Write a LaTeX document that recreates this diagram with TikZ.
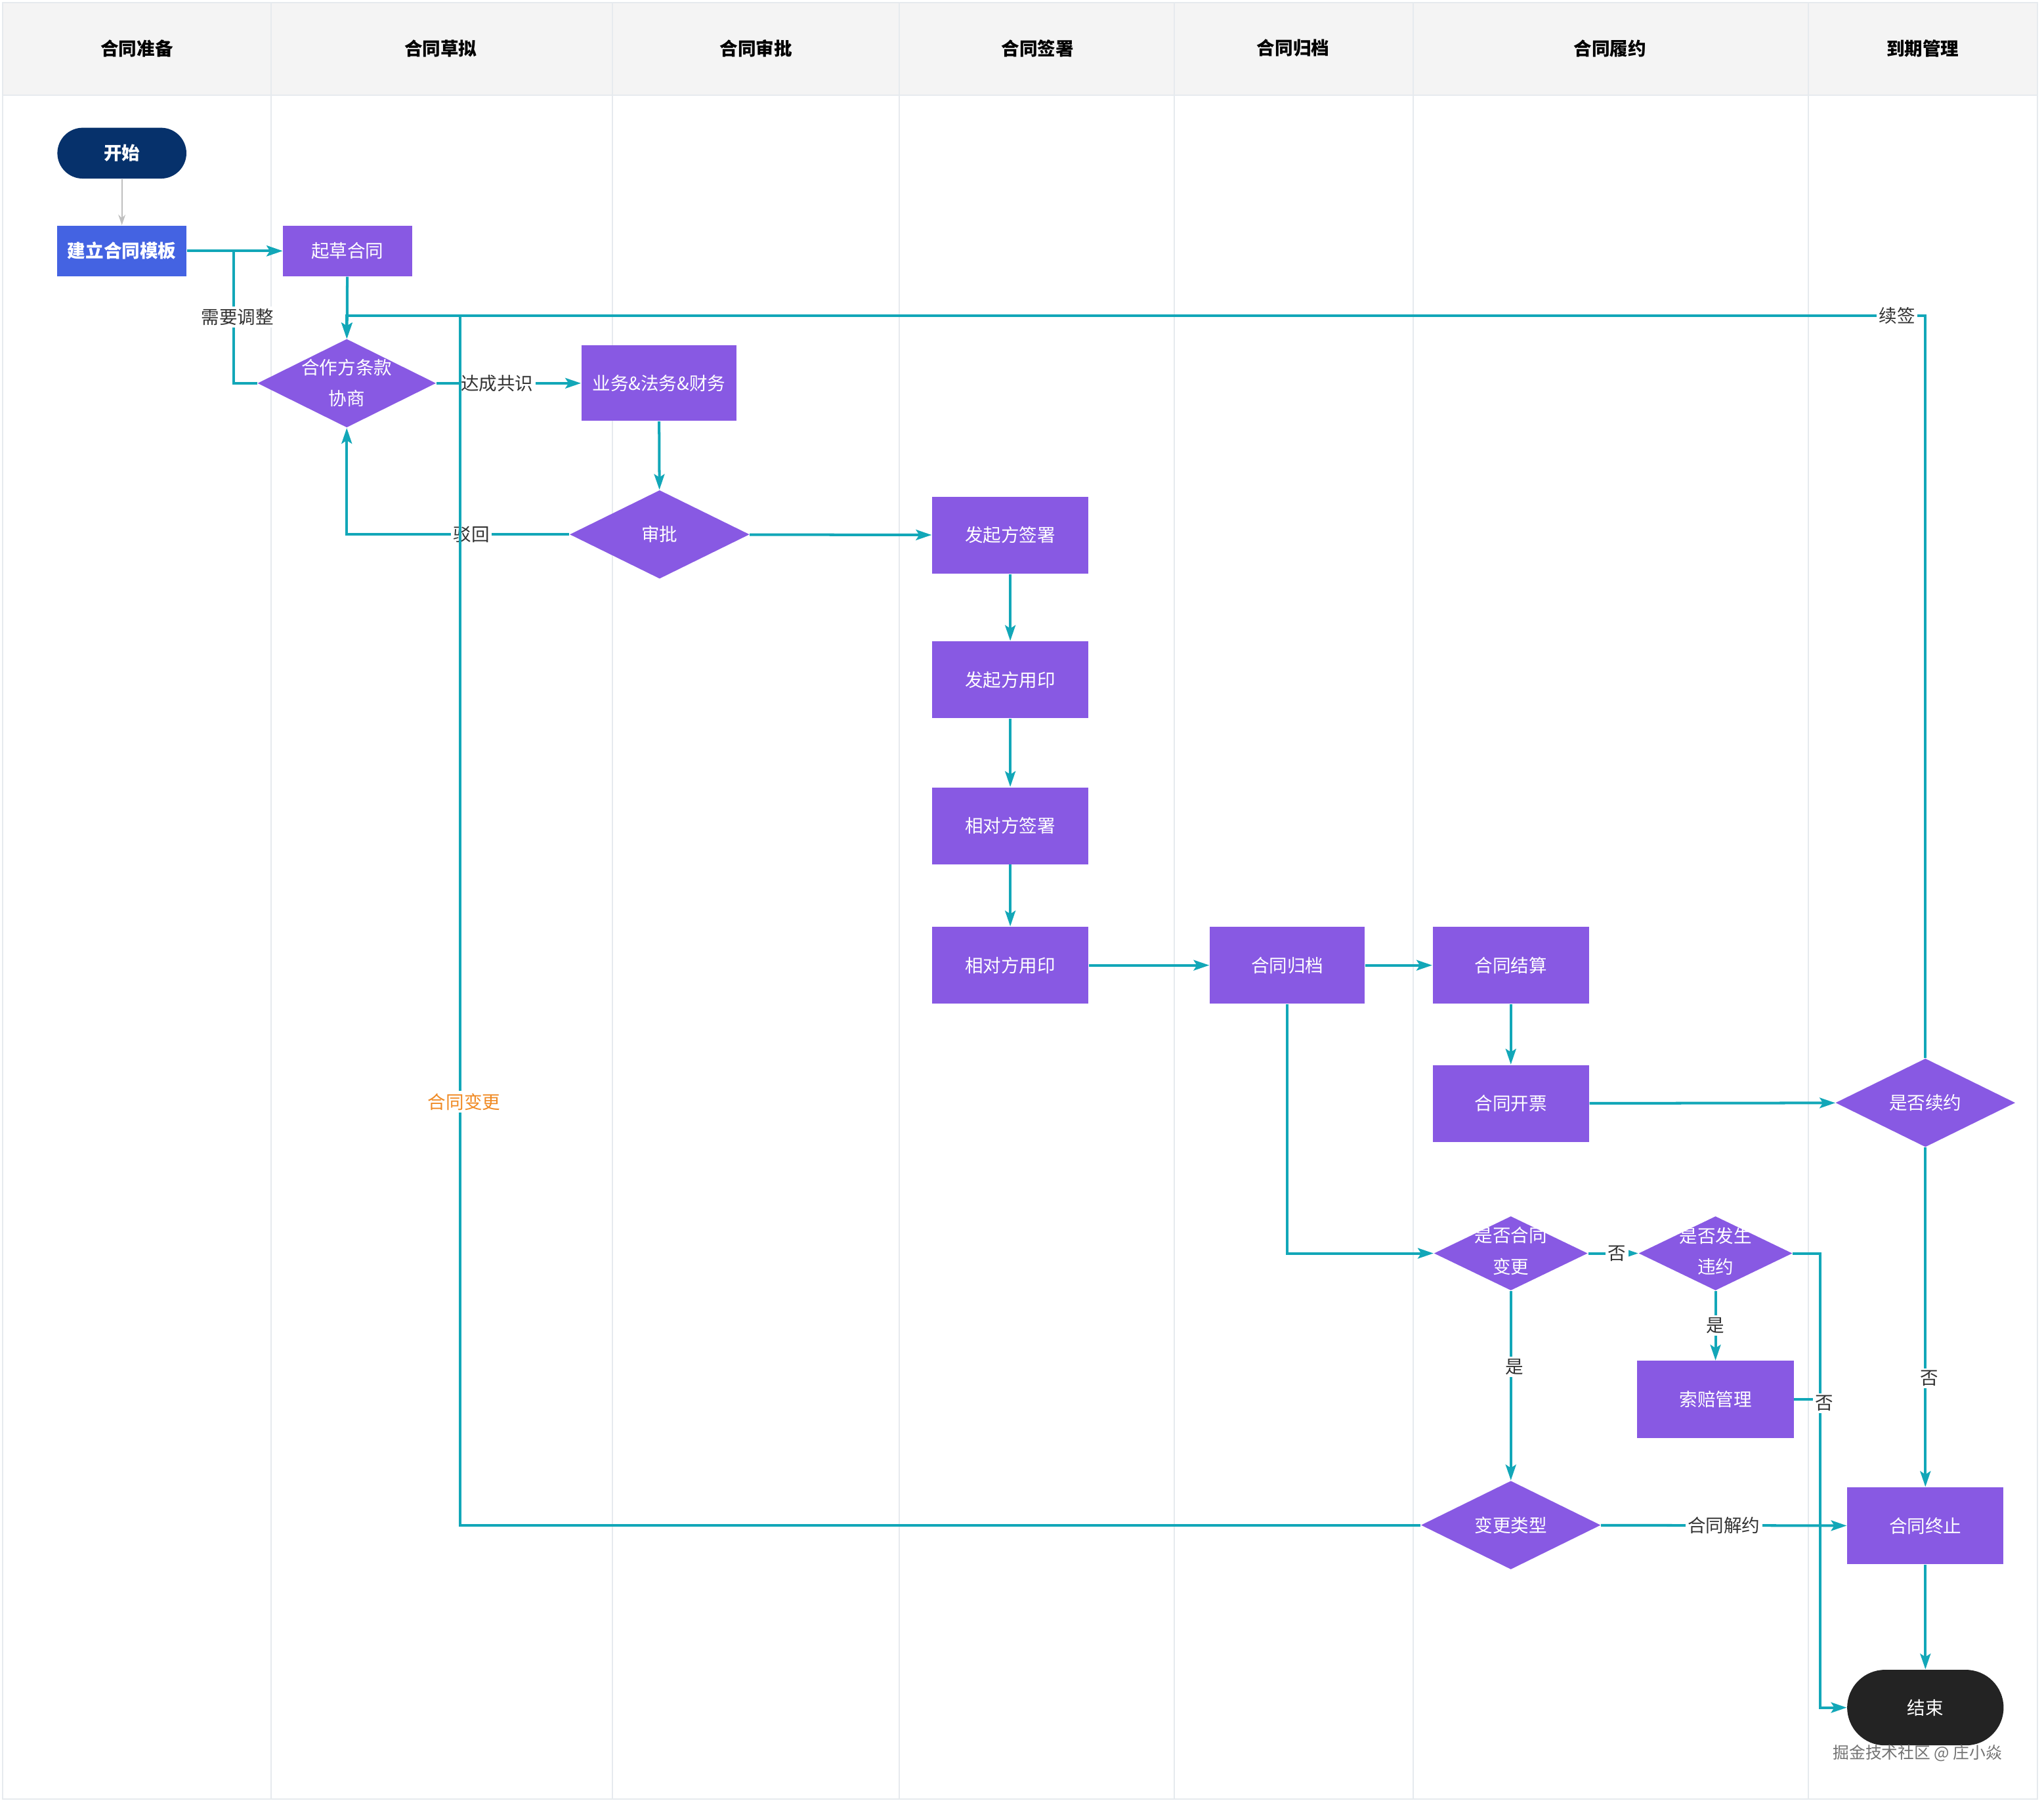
\documentclass[tikz,border=0pt]{standalone}
\usepackage{fontspec}
\setmainfont{Noto Sans CJK SC}
\usetikzlibrary{shapes.geometric,arrows.meta,calc}
\definecolor{tealc}{HTML}{12A7B8}
\definecolor{purp}{HTML}{8859E3}
\definecolor{bluec}{HTML}{4463E2}
\definecolor{navy}{HTML}{06316B}
\definecolor{endc}{HTML}{232323}
\definecolor{headbg}{HTML}{F4F4F4}
\definecolor{laneln}{HTML}{E6EAEE}
\definecolor{orangec}{HTML}{F08A24}
\definecolor{lbltext}{HTML}{333333}
\newcommand{\nf}{\fontsize{7.9}{13.5}\selectfont}
\begin{document}
\begin{tikzpicture}[x=0.02cm,y=-0.02cm,
  box/.style={rectangle, fill=purp, text=white, minimum width=2.4cm, minimum height=1.18cm, inner sep=0pt, font=\nf},
  pill/.style={rectangle, text=white, inner sep=0pt, font=\nf},
  dia/.style={diamond, fill=purp, inner sep=0pt, minimum width=2.76cm, minimum height=1.36cm},
  sdia/.style={diamond, fill=purp, inner sep=0pt, minimum width=2.36cm, minimum height=1.14cm},
  dtext/.style={text=white, align=center, font=\nf},
  title/.style={font=\nf\bfseries, text=black},
  lbl/.style={fill=white, text=lbltext, inner sep=1pt, font=\nf},
  vlbl/.style={lbl, xshift=0.06cm},
  arr/.style={draw=tealc, line width=1.15pt, -{Stealth[length=2.4mm,width=1.6mm,inset=0.5mm]}},
  ln/.style={draw=tealc, line width=1.15pt}
]
% background and lanes
\useasboundingbox (0,0) rectangle (1568,1383);
\fill[white] (0,0) rectangle (1568,1383);
\fill[headbg] (2,2) rectangle (1563,73);
\draw[laneln, line width=0.6pt] (2,73) -- (1563,73);
\foreach \xx in {208,470,690,901,1084,1387} {\draw[laneln, line width=0.6pt] (\xx,2) -- (\xx,1380);}
\draw[laneln, line width=0.6pt] (2,2) rectangle (1563,1380);
% lane titles
\node[title] (h1) at (105,37) {合同准备};
\node[title] (h2) at (338,37) {合同草拟};
\node[title] (h3) at (580,37) {合同审批};
\node[title] (h4) at (796,37) {合同签署};
\node[title] (h5) at (992,37) {合同归档};
\node[title] (h6) at (1235,37) {合同履约};
\node[title] (h7) at (1475,37) {到期管理};
% nodes
\node[pill, fill=navy, minimum width=1.98cm, minimum height=0.78cm, rounded corners=0.39cm, font=\nf\bfseries] (start) at (93.5,117.5) {开始};
\node[box, fill=bluec, minimum width=1.98cm, minimum height=0.78cm, font=\nf\bfseries] (tpl) at (93.5,192.5) {建立合同模板};
\node[box, minimum width=1.98cm, minimum height=0.78cm] (draft) at (266.5,192.5) {起草合同};
\node[dia, minimum width=2.74cm, label={[dtext]center:合作方条款\\协商}] (nego) at (266,294) {};
\node[box, minimum width=2.38cm, minimum height=1.16cm] (biz) at (505.5,294) {业务\&法务\&财务};
\node[dia, label={[dtext]center:审批}] (appr) at (506,410) {};
\node[box] (sign1) at (775,410.5) {发起方签署};
\node[box] (seal1) at (775,521.5) {发起方用印};
\node[box] (sign2) at (775,633.5) {相对方签署};
\node[box] (seal2) at (775,740.5) {相对方用印};
\node[box, minimum width=2.38cm] (arch) at (987.5,740.5) {合同归档};
\node[box] (settle) at (1159,740.5) {合同结算};
\node[box] (invoice) at (1159,846.5) {合同开票};
\node[dia, label={[dtext]center:是否续约}] (renew) at (1477,846) {};
\node[sdia, label={[dtext, yshift=1pt]center:是否合同\\变更}] (chg) at (1159,961.5) {};
\node[sdia, label={[dtext, yshift=1pt]center:是否发生\\违约}] (brk) at (1316,961.5) {};
\node[box] (claim) at (1316,1073.5) {索赔管理};
\node[dia, label={[dtext]center:变更类型}] (ctype) at (1159,1170) {};
\node[box] (term) at (1477,1170.5) {合同终止};
\node[pill, fill=endc, minimum width=2.4cm, minimum height=1.16cm, rounded corners=0.58cm] (end) at (1477,1310) {结束};
\node[text=black!55, font=\fontsize{7.1}{8}\selectfont] (wm) at (1471,1345) {掘金技术社区 @ 庄小焱};
% helper coordinates
\coordinate (top) at (266,242);
\coordinate (cj) at (353,242);
\coordinate (j1) at (1396,1073.5);
% connectors
\draw[draw=gray!50, line width=0.5pt, -{Stealth[length=1.6mm,width=1.1mm]}] (start) -- (tpl);
\draw[arr] (tpl) -- (draft);
\draw[arr] (nego.west) -- ++(-18,0) |- node[pos=0.25,vlbl]{需要调整} (draft.west);
\draw[arr] (draft) -- (nego);
\draw[arr] (nego.east) -- node[pos=0.42,lbl]{达成共识} (biz.west);
\draw[arr] (biz) -- (appr);
\draw[arr] (appr.west) -| node[pos=0.22,lbl]{驳回} (nego.south);
\draw[arr] (appr) -- (sign1);
\draw[arr] (sign1) -- (seal1);
\draw[arr] (seal1) -- (sign2);
\draw[arr] (sign2) -- (seal2);
\draw[arr] (seal2) -- (arch);
\draw[arr] (arch) -- (settle);
\draw[arr] (settle) -- (invoice);
\draw[arr] (invoice) -- (renew);
\draw[arr] (arch.south) |- (chg.west);
\draw[arr] (chg) -- node[lbl, xshift=0.06cm]{否} (brk);
\draw[arr] (brk) -- node[lbl]{是} (claim);
\draw[ln] (claim.east) -- (j1);
\draw[arr] (brk.east) -- ++(21,0) |- node[pos=0.165,vlbl]{否} (end.west);
\draw[arr] (chg) -- node[pos=0.4,vlbl]{是} (ctype);
\draw[arr] (ctype) -- node[lbl]{合同解约} (term);
\draw[arr] (renew.north) |- node[pos=0.509,lbl]{续签} (top) -- (nego.north);
\draw[arr] (ctype.west) -| node[pos=0.675,fill=white,text=orangec,inner sep=1pt,font=\nf,xshift=0.06cm]{合同变更} (cj) -- (top) -- (nego.north);
\draw[arr] (renew) -- node[pos=0.68,vlbl]{否} (term);
\draw[arr] (term) -- (end);
\end{tikzpicture}
\end{document}
